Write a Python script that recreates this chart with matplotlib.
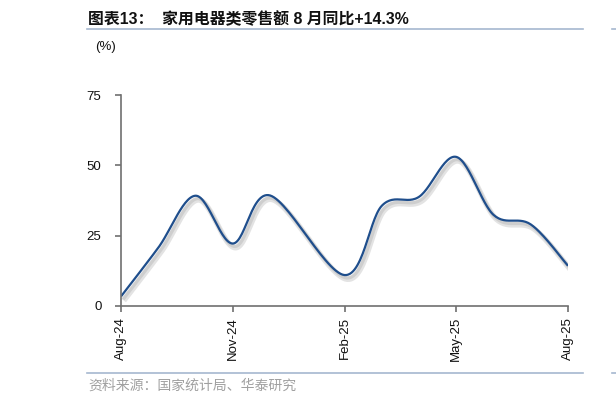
import numpy as np
import matplotlib
matplotlib.use("Agg")
import matplotlib.pyplot as plt
import matplotlib.patheffects as pe

plt.rcParams['font.family'] = ['Liberation Sans', 'Noto Sans CJK SC', 'DejaVu Sans']

months = ['Aug-24', 'Sep-24', 'Oct-24', 'Nov-24', 'Dec-24', 'Jan-25', 'Feb-25',
          'Mar-25', 'Apr-25', 'May-25', 'Jun-25', 'Jul-25', 'Aug-25']
# Jan-25 has no separate reading (Jan-Feb combined), the line just bridges it
yoy = [3.4, 20.7, 39.2, 22.2, 39.3, np.nan, 11.0, 35.6, 38.8, 53.0, 32.4, 29.0, 14.3]
tick_labels = ['Aug-24', 'Nov-24', 'Feb-25', 'May-25', 'Aug-25']
yticks = [0, 25, 50, 75]

title = '图表13：  家用电器类零售额 8 月同比+14.3%'
source = '资料来源：国家统计局、华泰研究'
unit = '(%)'


def smooth(x, y, n=30):
    # excel style smoothing: bezier with control points from neighbours
    p = np.column_stack([x, y]).astype(float)
    p = p[~np.isnan(p[:, 1])]
    p = np.vstack([p[0], p, p[-1]])
    out = []
    t = np.linspace(0, 1, n)[:, None]
    for i in range(1, len(p) - 2):
        p0, p1, p2, p3 = p[i - 1], p[i], p[i + 1], p[i + 2]
        c1 = p1 + (p2 - p0) / 6
        c2 = p2 - (p3 - p1) / 6
        seg = ((1 - t) ** 3) * p1 + 3 * ((1 - t) ** 2) * t * c1 + 3 * (1 - t) * t ** 2 * c2 + t ** 3 * p2
        out.append(seg)
    out = np.vstack(out)
    return out[:, 0], out[:, 1]


x = np.arange(len(months))
sx, sy = smooth(x, yoy)

fig = plt.figure(figsize=(6.16, 4.03), dpi=100)
ax = fig.add_axes([121 / 616, 1 - 306 / 403, 447 / 616, 211 / 403])

ax.plot(sx, sy, color='#1f4e8c', lw=1.6, solid_capstyle='butt',
        path_effects=[pe.SimpleLineShadow(offset=(2, -3), shadow_color='#b0b0b0', alpha=0.35, linewidth=4),
                      pe.SimpleLineShadow(offset=(1.5, -2), shadow_color='#a0a0a0', alpha=0.3, linewidth=2.5),
                      pe.Normal()])

ax.set_xlim(0, len(months) - 1)
ax.set_ylim(0, 75)
ax.set_yticks(yticks)
ax.set_yticklabels([str(v) for v in yticks])
ax.set_xticks([months.index(m) for m in tick_labels])
ax.set_xticklabels(tick_labels, rotation=90)

for s in ['top', 'right']:
    ax.spines[s].set_visible(False)
for s in ['left', 'bottom']:
    ax.spines[s].set_color('#707070')
    ax.spines[s].set_linewidth(1.2)
ax.tick_params(axis='both', direction='out', length=4, width=1.2, color='#707070',
               labelsize=9.5, labelcolor='#111111', pad=4)
ax.tick_params(axis='y', pad=10)
ax.patch.set_visible(False)

# header, unit and footer
fig.text(88 / 616, 1 - 19 / 403, title, fontsize=11.4, fontweight='bold', va='center', ha='left',
         color='#111111')
fig.add_artist(plt.Line2D([87 / 616, 583 / 616], [1 - 29 / 403] * 2, color='#a6b8cf', lw=1.2))
fig.text(95 / 616, 1 - 47 / 403, unit, fontsize=9.5, va='center', ha='left', color='#111111')
fig.add_artist(plt.Line2D([87 / 616, 583 / 616], [1 - 373 / 403] * 2, color='#a6b8cf', lw=1.2))
fig.text(88 / 616, 1 - 386 / 403, source, fontsize=10, va='center', ha='left',
         color='#a0a0a0', family=['Noto Sans CJK SC', 'DejaVu Sans'])

# edge of the neighbouring chart
fig.add_artist(plt.Line2D([612 / 616, 1], [1 - 29 / 403] * 2, color='#a6b8cf', lw=1.2))
fig.add_artist(plt.Line2D([612 / 616, 1], [1 - 373 / 403] * 2, color='#a6b8cf', lw=1.2))

fig.savefig('out.png', dpi=100)
